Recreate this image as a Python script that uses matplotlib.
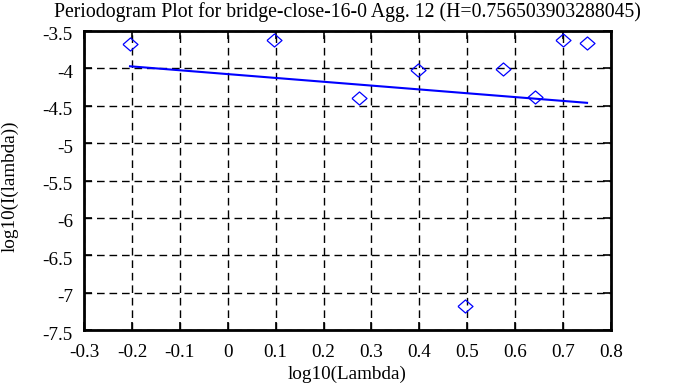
import matplotlib
matplotlib.use("Agg")
import matplotlib.pyplot as plt
import matplotlib.transforms as mtransforms

# data
log_lambda = [-0.204, 0.097, 0.273, 0.398, 0.495, 0.574, 0.641, 0.699, 0.750]
log_I = [-3.674, -3.62, -4.396, -4.022, -7.179, -4.01, -4.385, -3.62, -3.66]
fit_x = [-0.204, 0.750]
fit_y = [-3.972, -4.461]
xticks = [-0.3, -0.2, -0.1, 0, 0.1, 0.2, 0.3, 0.4, 0.5, 0.6, 0.7, 0.8]
xtick_labels = ["-0.3", "-0.2", "-0.1", "0", "0.1", "0.2", "0.3", "0.4", "0.5", "0.6", "0.7", "0.8"]
yticks = [-7.5, -7, -6.5, -6, -5.5, -5, -4.5, -4, -3.5]
ytick_labels = ["-7.5", "-7", "-6.5", "-6", "-5.5", "-5", "-4.5", "-4", "-3.5"]
title = "Periodogram Plot for bridge-close-16-0 Agg. 12 (H=0.756503903288045)"

plt.rcParams['font.family'] = ['Liberation Serif', 'DejaVu Serif']
FS = 13.8

fig = plt.figure(figsize=(6.95, 3.87), dpi=100)
ax = fig.add_axes([84/695, 57/387, 527/695, 299/387])

diamond = [(-1, 0), (0, 0.87), (1, 0), (0, -0.87), (-1, 0)]
ax.plot(fit_x, fit_y, color='#0000ff', lw=1.5, zorder=3)
ax.plot(log_lambda, log_I, linestyle='none', marker=diamond, markersize=10.8,
        markerfacecolor='none', markeredgecolor='#0000ff', markeredgewidth=0.9, zorder=4)

ax.set_xlim(-0.3, 0.8)
ax.set_ylim(-7.5, -3.5)
ax.set_xticks(xticks)
ax.set_xticklabels(xtick_labels)
ax.set_yticks(yticks)
ax.set_yticklabels(ytick_labels)
ax.grid(True, color='black', linestyle=(0, (5.5, 3.5)), linewidth=1)
ax.tick_params(direction='in', length=6, width=1.2, top=True, right=True,
               labelsize=FS, colors='black')
ax.tick_params(axis='x', pad=10)
ax.tick_params(axis='y', pad=8)
offset = mtransforms.ScaledTranslation(0, -3/100, fig.dpi_scale_trans)
for lab in ax.get_yticklabels():
    lab.set_transform(lab.get_transform() + offset)
for s in ax.spines.values():
    s.set_linewidth(2)
    s.set_color('black')

ax.set_title(title, fontsize=FS + 0.4, pad=10)
ax.set_xlabel("log10(Lambda)", fontsize=FS)
ax.xaxis.set_label_coords(0.5, -(366 - 330) / 299)
ax.set_ylabel("log10(I(lambda))", fontsize=FS)
ax.yaxis.set_label_coords(-(84 - 19) / 527, 0.48)

fig.savefig("out.png", dpi=100)
